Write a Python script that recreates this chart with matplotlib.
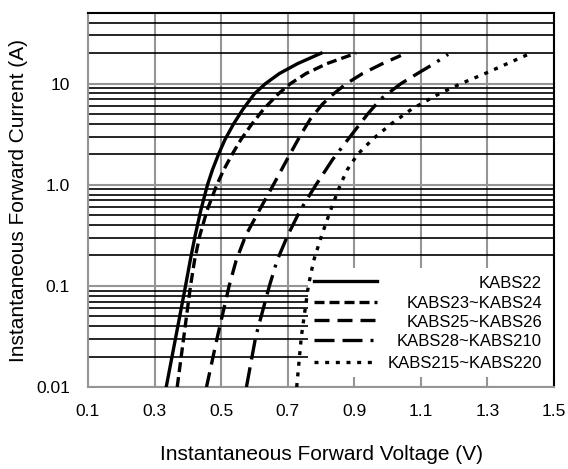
import numpy as np
import matplotlib
matplotlib.use('Agg')
import matplotlib.pyplot as plt
from matplotlib.patches import Rectangle
from matplotlib.lines import Line2D
from matplotlib.ticker import FixedLocator, LogLocator, NullFormatter

plt.rcParams['font.family'] = ['Liberation Sans', 'DejaVu Sans']

# forward characteristics (V, A)
series_names = ['KABS22', 'KABS23~KABS24', 'KABS25~KABS26', 'KABS28~KABS210', 'KABS215~KABS220']

v_kabs22 = [0.335, 0.364, 0.393, 0.407, 0.422, 0.439, 0.459, 0.474, 0.492, 0.512, 0.537, 0.566,
            0.600, 0.633, 0.675, 0.730, 0.800]
i_kabs22 = [0.01, 0.0316, 0.1, 0.178, 0.316, 0.562, 1.0, 1.41, 2.0, 2.82, 3.98, 5.62,
            7.94, 10.0, 12.6, 15.8, 20.0]

v_kabs23 = [0.368, 0.388, 0.408, 0.420, 0.436, 0.458, 0.487, 0.508, 0.533, 0.560, 0.592, 0.628,
            0.672, 0.708, 0.755, 0.818, 0.905]
i_kabs23 = [0.01, 0.0316, 0.1, 0.178, 0.316, 0.562, 1.0, 1.41, 2.0, 2.82, 3.98, 5.62,
            7.94, 10.0, 12.6, 15.8, 20.0]

v_kabs25 = [0.456, 0.489, 0.524, 0.545, 0.574, 0.615, 0.657, 0.698, 0.740, 0.768, 0.805, 0.838,
            0.876, 0.925, 0.985, 1.040]
i_kabs25 = [0.01, 0.0316, 0.1, 0.178, 0.316, 0.562, 1.0, 1.78, 3.16, 4.47, 6.31, 7.94,
            10.0, 12.6, 15.8, 19.0]

v_kabs28 = [0.576, 0.604, 0.645, 0.668, 0.700, 0.738, 0.785, 0.835, 0.893, 0.940, 0.980, 1.040,
            1.090, 1.140, 1.182]
i_kabs28 = [0.01, 0.0316, 0.1, 0.178, 0.316, 0.562, 1.0, 1.78, 3.16, 5.0, 7.08, 10.0,
            12.6, 15.8, 19.5]

v_kabs215 = [0.727, 0.741, 0.762, 0.778, 0.802, 0.829, 0.858, 0.879, 0.910, 0.955, 1.010, 1.073,
             1.155, 1.220, 1.293, 1.360, 1.430]
i_kabs215 = [0.01, 0.0316, 0.1, 0.178, 0.316, 0.562, 1.0, 1.41, 2.0, 2.82, 3.98, 5.62,
             7.94, 10.0, 12.6, 15.8, 20.0]

x_ticks = [0.1, 0.3, 0.5, 0.7, 0.9, 1.1, 1.3, 1.5]
y_ticks = [0.01, 0.1, 1, 10]
y_tick_labels = ['0.01', '0.1', '1.0', '10']

series = [(v_kabs22, i_kabs22), (v_kabs23, i_kabs23), (v_kabs25, i_kabs25),
          (v_kabs28, i_kabs28), (v_kabs215, i_kabs215)]
styles = ['-', (0, (3.0, 1.5)), (0, (4.5, 2.4)), (0, (6, 2.4, 6, 2.4, 0.9, 2.4)), (0, (1.2, 2.0))]

grey = '#959595'
lw = 2.4

fig = plt.figure(figsize=(5.68, 4.69), dpi=100)
ax = fig.add_axes([88 / 568, 1 - 387 / 469, 466 / 568, 374 / 469])

ax.set_xlim(0.1, 1.5)
ax.set_yscale('log')
ax.set_ylim(0.01, 50)

ax.xaxis.set_major_locator(FixedLocator(x_ticks))
ax.set_xticklabels([f'{t:.1f}' for t in x_ticks])
ax.yaxis.set_major_locator(FixedLocator(y_ticks))
ax.set_yticklabels(y_tick_labels)
ax.yaxis.set_minor_locator(LogLocator(base=10, subs=np.arange(2, 10), numticks=20))
ax.yaxis.set_minor_formatter(NullFormatter())

ax.tick_params(axis='both', which='both', length=0, labelsize=12.5)
ax.tick_params(axis='x', pad=12)
ax.tick_params(axis='y', pad=13)

ax.set_axisbelow(True)
ax.grid(True, which='major', axis='both', color=grey, lw=1.5)
ax.grid(True, which='minor', axis='y', color='black', lw=1.2)

for side in ['left', 'bottom']:
    ax.spines[side].set_color(grey)
    ax.spines[side].set_linewidth(1.5)
for side in ['top', 'right']:
    ax.spines[side].set_color('black')
    ax.spines[side].set_linewidth(1.5)

# white patch behind the legend
ax.add_patch(Rectangle((0.472, 0.027), 0.528, 0.291, transform=ax.transAxes,
                       facecolor='white', edgecolor='none', zorder=1))

for (v, i), ls in zip(series, styles):
    ax.plot(v, i, color='black', lw=lw, linestyle=ls, zorder=3,
            solid_joinstyle='round', dash_joinstyle='round')

# legend: keys on the left, labels aligned right
key_y = [0.283, 0.228, 0.178, 0.127, 0.068]
for name, ls, yk in zip(series_names, styles, key_y):
    ax.add_line(Line2D([0.485, 0.620], [yk, yk], transform=ax.transAxes,
                       color='black', lw=lw, linestyle=ls, zorder=4))
    ax.text(0.974, yk - 0.006, name, transform=ax.transAxes, ha='right', va='center',
            fontsize=12, zorder=4)

ax.set_xlabel('Instantaneous Forward Voltage (V)', fontsize=15)
ax.set_ylabel('Instantaneous Forward Current (A)', fontsize=15)
ax.xaxis.set_label_coords(0.5, -0.155)
ax.yaxis.set_label_coords(-0.128, 0.5)

fig.savefig('out.png', dpi=100)
